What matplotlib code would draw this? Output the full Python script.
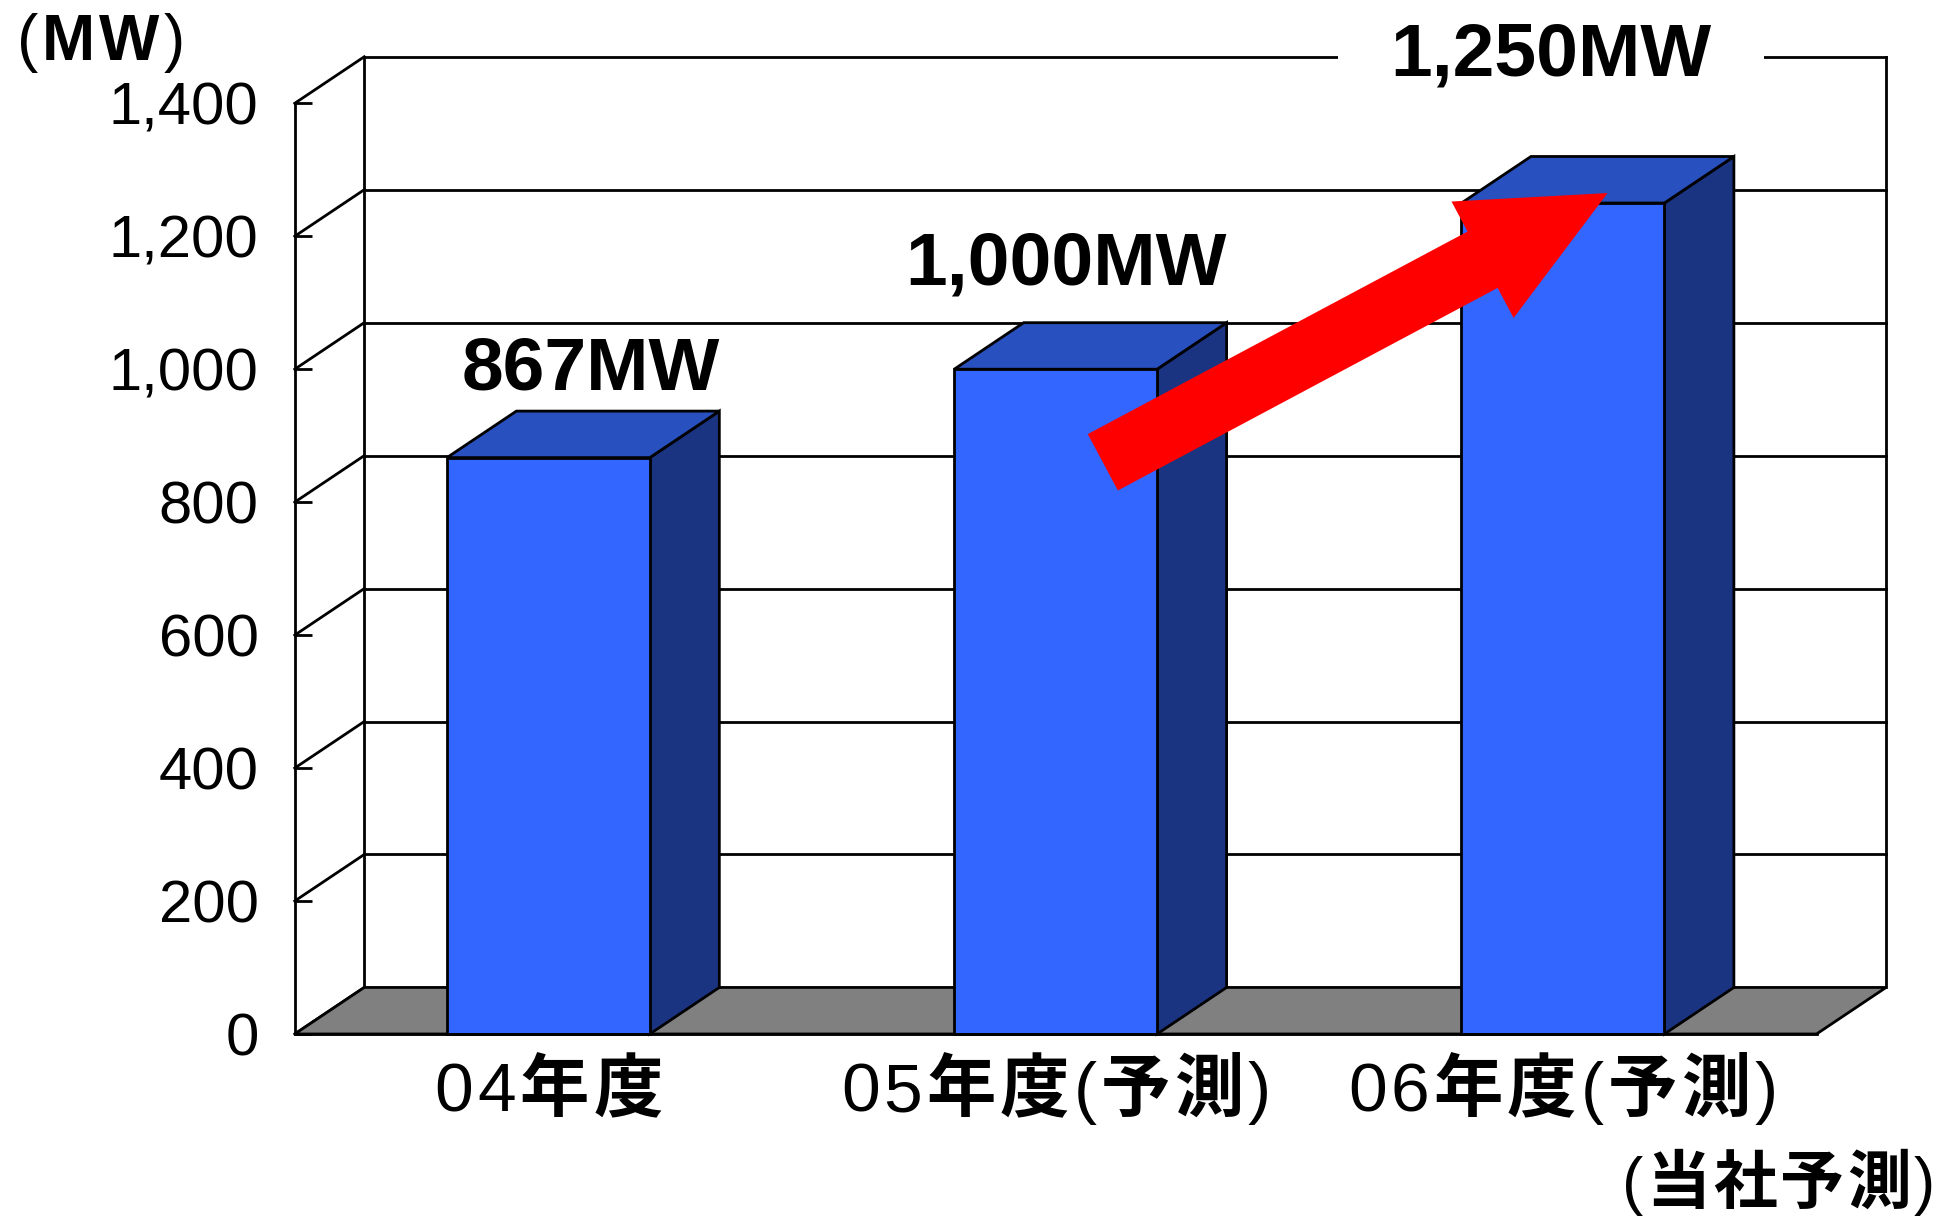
import matplotlib
matplotlib.use("Agg")
import matplotlib.pyplot as plt
from matplotlib.patches import Polygon, Rectangle
from matplotlib.ticker import FuncFormatter
from matplotlib.transforms import offset_copy

plt.rcParams['font.family'] = ['Liberation Sans', 'Noto Sans CJK JP', 'DejaVu Sans']

# data
categories = ['04年度', '05年度(予測)', '06年度(予測)']
values = [867, 1000, 1250]
value_labels = ['867MW', '1,000MW', '1,250MW']
yticks = [0, 200, 400, 600, 800, 1000, 1200, 1400]

# 3D look
DX, DY = 0.137, 70      # depth offset in data units
W = 0.4                  # bar width
x0, x1 = -0.5, 2.5
ymax = 1400
lw = 2.0

front = '#3366FF'
top = '#2850BF'
side = '#1B3482'

fig = plt.figure(figsize=(19.51, 12.16), dpi=100)
ax = fig.add_axes([0, 0, 1, 1])
ax.set_xlim(-1.081, 2.765)
ax.set_ylim(-273.8, 1555.4)
renderer = fig.canvas.get_renderer()


def split_chars(s):
    # ascii -> regular, kanji -> bold, one run per character
    return [(ch, 'normal' if ord(ch) < 128 else 'bold') for ch in s]


def rich_text(x, y, runs, size, ha='center', gap=0, transform=None):
    if transform is None:
        transform = ax.transData
    texts = [ax.text(x, y, s, fontsize=size, fontweight=w, ha='left', va='baseline',
                     transform=transform, clip_on=False) for s, w in runs]
    widths = [t.get_window_extent(renderer).width for t in texts]
    total = sum(widths) + gap * (len(texts) - 1)
    off = {'left': 0, 'center': -total / 2, 'right': -total}[ha]
    for t, wd in zip(texts, widths):
        t.set_transform(offset_copy(transform, x=off, units='dots'))
        off += wd + gap
    return texts


for s in ['top', 'right']:
    ax.spines[s].set_visible(False)
ax.spines['left'].set_position(('data', x0))
ax.spines['left'].set_bounds(0, ymax)
ax.spines['bottom'].set_position(('data', 0))
ax.spines['bottom'].set_bounds(x0, x1)
for s in ['left', 'bottom']:
    ax.spines[s].set_linewidth(lw)
    ax.spines[s].set_zorder(5)

ax.set_yticks(yticks)
ax.yaxis.set_major_formatter(FuncFormatter(lambda v, p: f'{v:,.0f}'))
ax.tick_params(axis='y', direction='in', length=12, width=lw, labelsize=43, pad=26)

ax.set_xticks([0.5, 1.5, 2.5])
ax.set_xticklabels([])
ax.tick_params(axis='x', which='major', direction='in', length=12, width=lw)

# category labels (digits regular, kanji bold)
for i, c in enumerate(categories):
    rich_text(i, -116, split_chars(c), 50, gap=4)

# back wall + grid
for v in yticks[1:]:
    ax.plot([x0 + DX, x1 + DX], [v + DY, v + DY], color='black', lw=lw, zorder=1)
for xx in [x0 + DX, x1 + DX]:
    ax.plot([xx, xx], [DY, ymax + DY], color='black', lw=lw, zorder=1)
# side wall diagonals
for v in yticks:
    ax.plot([x0, x0 + DX], [v, v + DY], color='black', lw=lw, zorder=1)

# floor
ax.add_patch(Polygon([(x0, 0), (x1, 0), (x1 + DX, DY), (x0 + DX, DY)],
                     closed=True, facecolor='#808080', edgecolor='black', lw=lw, zorder=2))

# bars
for i, v in enumerate(values):
    l, r = i - W / 2, i + W / 2
    ax.add_patch(Polygon([(r, 0), (r + DX, DY), (r + DX, v + DY), (r, v)],
                         closed=True, facecolor=side, edgecolor='black', lw=lw, zorder=3))
    ax.add_patch(Polygon([(l, v), (r, v), (r + DX, v + DY), (l + DX, v + DY)],
                         closed=True, facecolor=top, edgecolor='black', lw=lw, zorder=3))
    ax.add_patch(Rectangle((l, 0), W, v, facecolor=front, edgecolor='black', lw=lw, zorder=3))

# value labels
label_off = [(0.084, 132), (0.021, 157), (-0.023, 221)]
for i, (v, t) in enumerate(zip(values, value_labels)):
    kw = {}
    if i == 2:
        kw['bbox'] = dict(boxstyle='square,pad=0.7', facecolor='white', edgecolor='none')
    ax.text(i + label_off[i][0], v + label_off[i][1], t, ha='center', va='center',
            fontsize=54, fontweight='bold', zorder=6, **kw)

# growth arrow
ax.annotate('', xy=(2.088, 1265), xytext=(1.093, 860),
            arrowprops=dict(arrowstyle='simple,head_length=1.02,head_width=0.95,tail_width=0.46',
                            mutation_scale=100, facecolor='#FF0000', edgecolor='none',
                            shrinkA=0, shrinkB=0), zorder=7)

# unit and note
rich_text(17 / 1951, 1 - 60 / 1216, [('(', 'normal'), ('M', 'bold'), ('W', 'bold'), (')', 'normal')],
          46, ha='left', gap=4, transform=fig.transFigure)
rich_text(1935 / 1951, 1 - 1203 / 1216, split_chars('(当社予測)'), 46, ha='right', gap=3,
          transform=fig.transFigure)

fig.savefig('out.png', dpi=100)
